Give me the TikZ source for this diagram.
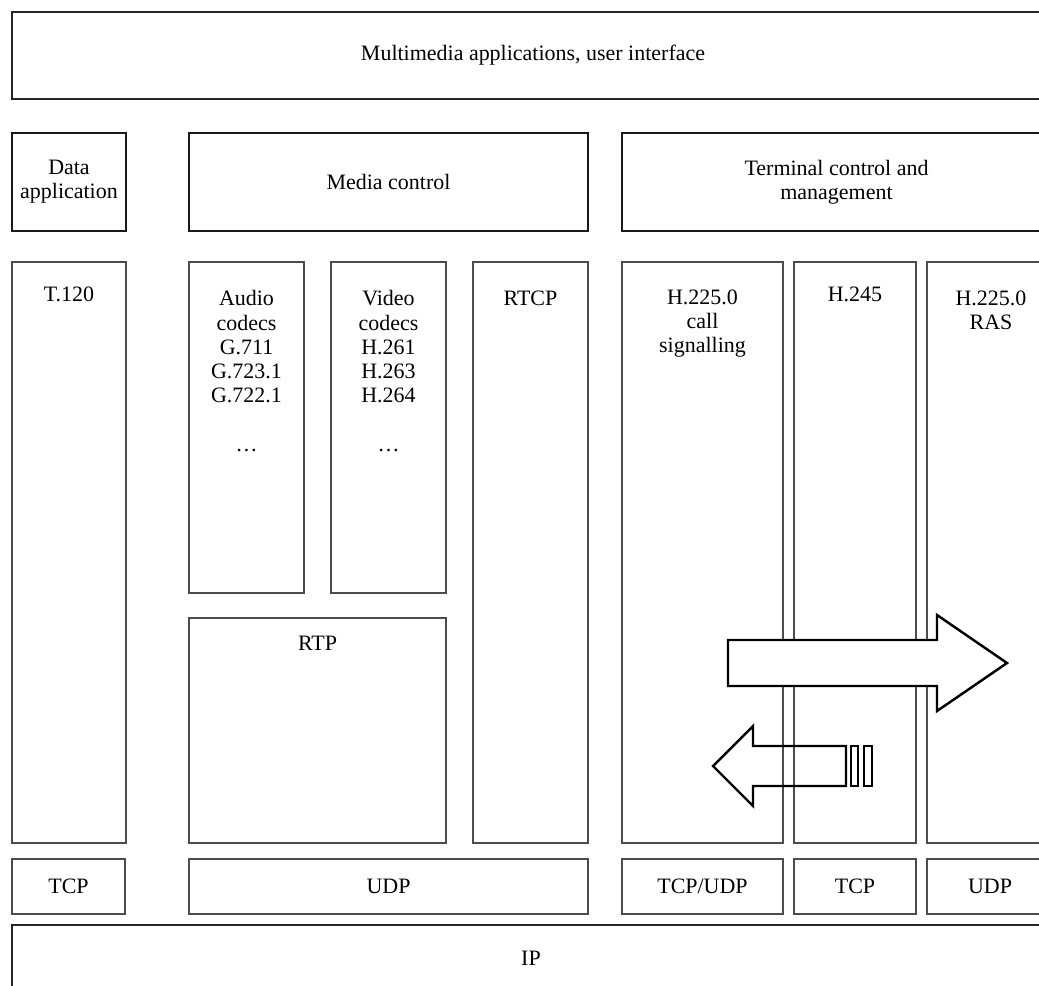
\documentclass[tikz,border=0pt]{standalone}
\usepackage{fontspec}
\setmainfont{Liberation Serif}
\usetikzlibrary{positioning,fit}
\newcommand{\stackfont}{\fontsize{12.5}{13.8}\selectfont}

\begin{document}
\begin{tikzpicture}[
    x=0.2mm, y=-0.2mm,
    box/.style={draw=black!70, line width=0.9pt, inner sep=0pt},
    ctrlbox/.style={box, draw=black!90, line width=1.5pt},
    lbl/.style={inner sep=0pt, align=center, font=\stackfont},
    mid/.style={label={[lbl]center:#1}}
]
\useasboundingbox (0,0) rectangle (1039,985);
\clip (0,0) rectangle (1039,985);

% ---- Application layer ----
\node[box, draw=black!85, line width=1.1pt, fit={(12,12) (1054,99)},
    mid={Multimedia applications, user interface}] (apps) {};

% ---- Control row ----
\node[ctrlbox, fit={(12,133) (126,231)}, mid={Data\\application}] (dataapp) {};
\node[ctrlbox, fit={(189,133) (588,231)}, mid={Media control}] (mediactl) {};
\node[ctrlbox, fit={(622,133) (1051,231)}, mid={Terminal control and\\management}] (termctl) {};

% ---- Protocol columns ----
\node[box, fit={(12,262) (126,843)}] (t120) {};
\node[box, fit={(189,262) (304,593)}] (audio) {};
\node[box, fit={(331,262) (446,593)}] (video) {};
\node[box, fit={(473,262) (588,843)}] (rtcp) {};
\node[box, fit={(189,618) (446,843)}] (rtp) {};
\node[box, fit={(622,262) (783,843)}] (callsig) {};
\node[box, fit={(794,262) (916,843)}] (h245) {};
\node[box, fit={(927,262) (1055,843)}] (ras) {};

\node[lbl, below=0.5cm of t120.north] (t120txt) {T.120};
\node[lbl, below=0.58cm of audio.north] (audiotxt)
    {Audio\\codecs\\G.711\\G.723.1\\G.722.1\\~\\\ldots};
\node[lbl, below=0.58cm of video.north] (videotxt)
    {Video\\codecs\\H.261\\H.263\\H.264\\~\\\ldots};
\node[lbl, below=0.58cm of rtcp.north] (rtcptxt) {RTCP};
\node[lbl, below=0.38cm of rtp.north] (rtptxt) {RTP};
\node[lbl, below=0.56cm of callsig.north] (callsigtxt) {H.225.0\\call\\signalling};
\node[lbl, below=0.5cm of h245.north] (h245txt) {H.245};
\node[lbl, below=0.58cm of ras.north] (rastxt) {H.225.0\\RAS};

% ---- Transport row ----
\node[box, fit={(12,859) (125,914)}, mid=TCP] (tcpa) {};
\node[box, fit={(189,859) (588,914)}, mid=UDP] (udpa) {};
\node[box, fit={(622,859) (783,914)}, mid=TCP/UDP] (tcpudp) {};
\node[box, fit={(794,859) (916,914)}, mid=TCP] (tcpb) {};
\node[box, fit={(927,859) (1053,914)}, mid=UDP] (udpb) {};

% ---- Network layer ----
\node[box, draw=black!85, line width=1.2pt, fit={(12,925) (1050,991)}, mid=IP] (ip) {};

% outgoing arrow
\draw[line width=1.4pt, fill=white] (728,640) -- (937,640) -- (937,615) -- (1007,663)
    -- (937,711) -- (937,686) -- (728,686) -- cycle;
% incoming arrow
\draw[line width=1.4pt] (846,746) -- (753,746) -- (753,726) -- (713,766)
    -- (753,806) -- (753,786) -- (846,786) -- cycle;
\draw[line width=1.1pt] (851,746) rectangle (858,786);
\draw[line width=1.1pt] (864,746) rectangle (872,786);
\end{tikzpicture}
\end{document}
